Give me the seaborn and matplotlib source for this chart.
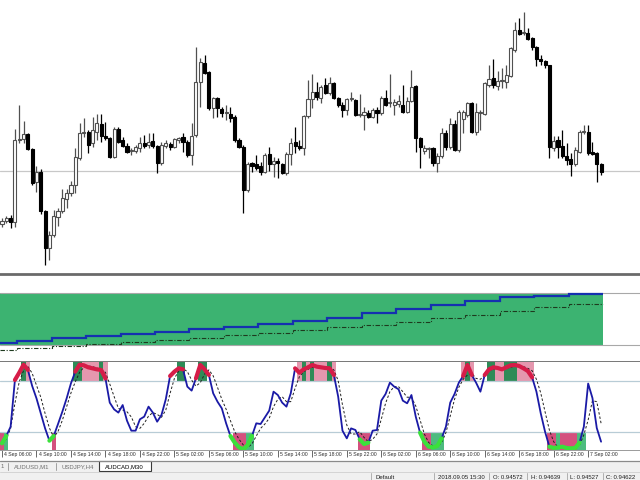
import numpy as np
import matplotlib
matplotlib.use('Agg')
import matplotlib.pyplot as plt
from matplotlib.patches import Rectangle
from matplotlib.transforms import ScaledTranslation
import seaborn as sns

# AUDCAD M30 candles, prices in points (1e-5)
opens = [94552, 94558, 94564, 94556, 94720, 94722, 94732, 94702, 94636, 94656,
         94578, 94504, 94530, 94566, 94578, 94602, 94614, 94630, 94684, 94734,
         94736, 94714, 94736, 94752, 94728, 94724, 94686, 94742, 94720, 94708,
         94698, 94698, 94704, 94714, 94710, 94718, 94708, 94674, 94708, 94712,
         94706, 94720, 94726, 94716, 94690, 94730, 94836, 94874, 94856, 94784,
         94804, 94782, 94774, 94772, 94766, 94720, 94706, 94620, 94674, 94672,
         94668, 94656, 94692, 94672, 94678, 94672, 94654, 94692, 94716, 94708,
         94704, 94768, 94802, 94816, 94804, 94830, 94814, 94834, 94804, 94790,
         94780, 94802, 94800, 94770, 94770, 94774, 94766, 94780, 94774, 94804,
         94794, 94790, 94792, 94790, 94776, 94798, 94828, 94724, 94698, 94702,
         94704, 94674, 94688, 94734, 94706, 94752, 94700, 94762, 94770, 94794,
         94736, 94774, 94772, 94830, 94844, 94828, 94838, 94836, 94848, 94900,
         94940, 94934, 94934, 94924, 94906, 94882, 94878, 94870, 94704, 94720,
         94708, 94688, 94682, 94672, 94696, 94736, 94736, 94696, 94694, 94672]
highs = [94564, 94568, 94570, 94742, 94790, 94758, 94734, 94704, 94668, 94662,
         94580, 94538, 94580, 94584, 94622, 94622, 94638, 94704, 94754, 94764,
         94740, 94766, 94772, 94772, 94756, 94726, 94746, 94746, 94726, 94714,
         94704, 94710, 94726, 94730, 94734, 94734, 94710, 94716, 94720, 94716,
         94724, 94726, 94734, 94720, 94754, 94906, 94884, 94890, 94858, 94806,
         94806, 94786, 94790, 94786, 94770, 94724, 94710, 94676, 94676, 94690,
         94676, 94694, 94706, 94686, 94684, 94674, 94696, 94724, 94746, 94720,
         94770, 94840, 94852, 94836, 94830, 94844, 94846, 94836, 94806, 94796,
         94804, 94816, 94802, 94812, 94786, 94780, 94784, 94786, 94808, 94820,
         94852, 94802, 94810, 94830, 94806, 94860, 94830, 94726, 94710, 94706,
         94706, 94694, 94744, 94740, 94764, 94760, 94780, 94780, 94796, 94796,
         94794, 94780, 94836, 94870, 94882, 94858, 94864, 94870, 94906, 94956,
         94964, 94976, 94944, 94926, 94908, 94890, 94880, 94870, 94728, 94728,
         94740, 94714, 94694, 94706, 94740, 94750, 94750, 94716, 94696, 94674]
lows = [94546, 94554, 94544, 94546, 94714, 94714, 94700, 94630, 94616, 94572,
        94470, 94480, 94526, 94548, 94574, 94584, 94608, 94614, 94680, 94726,
        94694, 94706, 94720, 94716, 94720, 94684, 94684, 94714, 94706, 94694,
        94690, 94694, 94696, 94704, 94704, 94704, 94654, 94670, 94704, 94700,
        94704, 94714, 94696, 94686, 94670, 94726, 94786, 94852, 94780, 94764,
        94766, 94766, 94760, 94756, 94716, 94704, 94574, 94616, 94656, 94660,
        94650, 94654, 94658, 94646, 94644, 94652, 94650, 94670, 94694, 94700,
        94690, 94764, 94784, 94800, 94794, 94812, 94810, 94802, 94786, 94766,
        94770, 94798, 94768, 94766, 94740, 94764, 94764, 94754, 94770, 94788,
        94786, 94770, 94786, 94774, 94774, 94796, 94696, 94664, 94692, 94684,
        94668, 94656, 94684, 94700, 94702, 94698, 94696, 94734, 94766, 94734,
        94730, 94740, 94770, 94826, 94824, 94820, 94824, 94824, 94846, 94896,
        94930, 94930, 94920, 94900, 94868, 94870, 94864, 94684, 94698, 94684,
        94684, 94670, 94648, 94668, 94694, 94732, 94690, 94690, 94636, 94650]
closes = [94558, 94564, 94556, 94720, 94722, 94732, 94702, 94634, 94656, 94578,
          94504, 94530, 94568, 94578, 94604, 94614, 94630, 94686, 94734, 94736,
          94710, 94740, 94754, 94728, 94724, 94686, 94742, 94716, 94708, 94696,
          94698, 94706, 94714, 94708, 94716, 94708, 94674, 94710, 94714, 94706,
          94722, 94724, 94716, 94690, 94728, 94836, 94876, 94854, 94784, 94804,
          94784, 94774, 94774, 94764, 94720, 94706, 94620, 94672, 94668, 94664,
          94656, 94690, 94672, 94678, 94674, 94654, 94692, 94714, 94708, 94704,
          94768, 94802, 94816, 94806, 94826, 94814, 94834, 94804, 94790, 94780,
          94802, 94802, 94770, 94770, 94776, 94766, 94780, 94774, 94804, 94790,
          94794, 94796, 94798, 94776, 94798, 94826, 94724, 94706, 94704, 94702,
          94674, 94688, 94734, 94706, 94752, 94700, 94776, 94776, 94794, 94736,
          94776, 94774, 94834, 94842, 94830, 94838, 94838, 94850, 94904, 94940,
          94932, 94934, 94922, 94906, 94882, 94878, 94870, 94706, 94718, 94706,
          94688, 94680, 94672, 94700, 94736, 94736, 94694, 94692, 94672, 94656]
hline_price = 94658

# middle panel: 4-hour step indicator
flow_main = [17.3, 19, 21.7, 24, 25.7, 28, 30.7, 33.3, 36, 39.3, 41.7, 46.7,
             50.7, 55, 59.3, 62.7, 64.3, 65.7]
flow_signal = [10, 11.7, 14, 16, 18.3, 20, 22.3, 25, 27.3, 30, 32.7, 35,
               38.3, 41.7, 45, 49, 53.3, 56]
band_lo, band_hi = 15, 67

# stochastic
stoch_main = [7.1, 15.7, 26.6, 81.2, 89.7, 99.1, 92.9, 74.2, 59.7, 42.2,
              24.6, 10.2, 15.7, 29.7, 44.1, 59.7, 77.3, 90.9, 99.1, 98.3,
              96.0, 94.8, 93.6, 92.9, 83.1, 54.7, 46.9, 43.0, 51.9, 33.6,
              21.9, 21.9, 35.2, 38.3, 50.0, 43.0, 32.4, 40.2, 58.6, 85.8,
              90.9, 94.8, 93.6, 73.4, 68.7, 83.1, 98.7, 93.6, 87.0, 65.6,
              55.8, 48.0, 30.5, 15.7, 7.9, 2.4, 0.1, 5.1, 15.7, 30.5,
              29.7, 37.5, 45.3, 67.5, 63.6, 54.7, 50.0, 65.6, 94.8, 89.7,
              93.6, 96.0, 98.7, 96.8, 96.0, 95.2, 94.8, 87.0, 61.7, 21.9,
              12.9, 24.6, 22.7, 11.8, 6.3, 7.9, 21.9, 22.7, 57.0, 64.8,
              78.1, 73.4, 70.3, 57.0, 53.9, 63.6, 38.3, 19.6, 9.0, 3.2,
              2.4, 4.0, 12.9, 26.6, 54.7, 64.8, 78.1, 85.8, 98.7, 87.0,
              78.0, 67.5, 87.0, 93.6, 96.0, 95.2, 93.6, 96.0, 98.3, 98.7,
              97.5, 94.8, 91.7, 84.3, 67.5, 42.2, 20.7, 3.2, 1.6, 2.4,
              3.2, 1.6, 1.2, 1.6, 7.9, 26.6, 77.0, 60.0, 25.0, 9.0]
stoch_signal = [7, 12, 24.6, 54, 79, 92, 97, 89, 75, 61,
                42, 25, 14, 21, 34, 50, 66, 79, 90, 96,
                97.5, 96.8, 95, 94, 90, 76.5, 62, 48, 46, 44,
                38, 26.6, 24.6, 30.5, 39, 43, 41, 37.5, 46, 65.6,
                83, 91.7, 94.4, 91, 81, 74, 78, 88, 93, 86,
                72.6, 58.6, 47, 33.6, 20.7, 11.8, 5.1, 2.4, 6.3, 15.7,
                24.6, 29.7, 36.3, 50, 58.6, 61.7, 55.8, 55.8, 71.4, 85,
                91, 93.6, 96, 96.8, 96.8, 96.8, 96, 92.9, 80.4, 52,
                28.5, 18, 18, 20.7, 14, 9, 11.8, 18, 35.2, 54,
                67.5, 73.4, 73.4, 67.5, 61, 61, 50.8, 34.4, 18, 8,
                4, 3.2, 7.9, 19.6, 39, 58.6, 72.6, 82, 87, 89,
                83, 82, 87, 92, 94, 94.8, 94, 94.8, 96, 97.5,
                98, 96.8, 94.8, 92, 82, 66, 44, 22.7, 9, 2.4,
                2.4, 2.4, 2, 2.4, 5, 17, 34.4, 57, 55.8, 30.5]
level_hi, level_lo = 80, 20

# zone blocks: bar index and kind (g = green, p = pink)
upper_bars = [5, 6, 17, 18, 19, 20, 21, 22, 23, 24, 41, 42, 46, 47, 69, 70, 71, 72, 73,
              74, 75, 76, 77, 107, 108, 109, 113, 114, 115, 116, 117, 118, 119, 120, 121, 122, 123]
upper_kind = list('gpggppppgpgggg' 'pgpgp' 'ppgp' 'pgp' 'ggppgggpppp')
lower_bars = [0, 1, 12, 54, 55, 56, 57, 58, 83, 84, 85, 98, 99, 100, 101, 102,
              127, 128, 129, 130, 131, 132, 133, 134, 135]
lower_kind = list('pgp' 'pppgg' 'ppp' 'ppggg' 'ppgppppgg')

time_labels = ['4 Sep 06:00', '4 Sep 10:00', '4 Sep 14:00', '4 Sep 18:00', '4 Sep 22:00',
               '5 Sep 02:00', '5 Sep 06:00', '5 Sep 10:00', '5 Sep 14:00', '5 Sep 18:00',
               '5 Sep 22:00', '6 Sep 02:00', '6 Sep 06:00', '6 Sep 10:00', '6 Sep 14:00',
               '6 Sep 18:00', '6 Sep 22:00', '7 Sep 02:00']
tabs = ['AUDUSD,M1', 'USDJPY,H4', 'AUDCAD,M30']
status = ['Default', '2018.09.05 15:30', 'O: 0.94572', 'H: 0.94639', 'L: 0.94527', 'C: 0.94622']

sns.set_style('white')
plt.rcParams['font.family'] = ['Liberation Sans', 'DejaVu Sans']

W, H = 640, 480
fig = plt.figure(figsize=(6.4, 4.8), dpi=100)
fig.patch.set_facecolor('white')


def px_axes(top, bottom):
    return fig.add_axes([0, 1 - bottom / H, 1, (bottom - top) / H])


n = len(opens)
bars = np.arange(n)
xlim = (-0.464, 148.03)
sep_col = '#6a6a6a'

# ---- main candle chart
o = np.array(opens) / 1e5
h = np.array(highs) / 1e5
l = np.array(lows) / 1e5
c = np.array(closes) / 1e5
up = c >= o

ax = px_axes(0, 274)
ax.axhline(hline_price / 1e5, color='#c8c8c8', lw=0.9, zorder=1)
ax.vlines(bars, l, h, colors=np.where(up, '#505050', '#000000'), lw=0.9, zorder=2)
ax.bar(bars, np.maximum(np.abs(c - o), 0.000012), bottom=np.minimum(o, c), width=0.72,
       color=np.where(up, 'white', 'black'), edgecolor=np.where(up, '#505050', 'black'),
       linewidth=0.8, zorder=3)
ax.set_xlim(*xlim)
ax.set_ylim(0.94452, 0.95000)
ax.axis('off')

# ---- middle panel
ax2 = px_axes(274, 362)
ax2.fill_between([-0.5, n - 0.5], band_lo, band_hi, color='#3cb371', lw=0, zorder=1)
ax2.axhline(band_lo, color='#a8a8a8', lw=0.8, zorder=1.5)
ax2.axhline(band_hi, color='#a8a8a8', lw=0.8, zorder=1.5)
edges = np.r_[-0.5, np.arange(3.5, n - 8, 8), n - 0.5]
ax2.stairs(flow_signal, edges, baseline=None, color='#1e3a1e', lw=0.8,
           linestyle=(0, (4, 1.5, 1, 1.5)), zorder=2)
ax2.stairs(flow_main, edges, baseline=None, color='#1530b0', lw=1.6, zorder=3)
ax2.set_xlim(*xlim)
ax2.set_ylim(-2, 86)
ax2.set_xticks([])
ax2.set_yticks([])
for side in ['left', 'right']:
    ax2.spines[side].set_visible(False)
for side in ['top', 'bottom']:
    ax2.spines[side].set_color(sep_col)
    ax2.spines[side].set_linewidth(2)

# ---- stochastic panel
ax3 = px_axes(362, 450)
up_cols = {'g': '#2e8b57', 'p': '#e597ae'}
lo_cols = {'g': '#4dbb7f', 'p': '#d4507e'}
ax3.bar(upper_bars, 100 - level_hi + 2, bottom=level_hi, width=1.0,
        color=[up_cols[k] for k in upper_kind], lw=0, zorder=1)
ax3.bar(lower_bars, level_lo + 1, bottom=-1, width=1.0,
        color=[lo_cols[k] for k in lower_kind], lw=0, zorder=1)
ax3.axhline(level_hi, color='#b8ccd6', lw=0.9, zorder=1.5)
ax3.axhline(level_lo, color='#b8ccd6', lw=0.9, zorder=1.5)

main = np.array(stoch_main)
sns.lineplot(x=bars, y=stoch_signal, ax=ax3, color='#202020', lw=0.7,
             linestyle=(0, (2.5, 2)), zorder=2)
sns.lineplot(x=bars, y=main, ax=ax3, color='#1a1aa6', lw=1.3, zorder=3)
ax3.plot(bars, np.where(main >= level_hi, main, np.nan), color='#d61c48', lw=3,
         solid_capstyle='round', zorder=4)
ax3.plot(bars, np.where(main <= level_lo, main, np.nan), color='#3be03b', lw=3,
         solid_capstyle='round', zorder=4)
ax3.set_xlim(*xlim)
ax3.set_ylim(-0.7, 102.2)
ax3.set_yticks([])
ax3.set_xticks(bars[::8][:len(time_labels)])
ax3.set_xticklabels(time_labels, ha='left', fontsize=3.7, color='#303030')
ax3.tick_params(axis='x', length=5, width=0.6, pad=-3.5, color='#505050', direction='out',
                bottom=True)
shift = ScaledTranslation(1.5 / 72, 0, fig.dpi_scale_trans)
for lab in ax3.get_xticklabels():
    lab.set_transform(lab.get_transform() + shift)
ax3.set_xlabel('')
ax3.set_ylabel('')
for side in ['left', 'right', 'top']:
    ax3.spines[side].set_visible(False)
ax3.spines['bottom'].set_color('#9a9a9a')
ax3.spines['bottom'].set_linewidth(0.7)

# ---- terminal tabs and status bar
axb = px_axes(450, 480)
axb.set_xlim(0, W)
axb.set_ylim(480, 450)
axb.axis('off')
axb.add_patch(Rectangle((0, 461), W, 19, fc='#f0f0f0', ec='none'))
axb.axhline(461, color='#8a8a8a', lw=0.9)
axb.axhline(471.5, color='#d4d4d4', lw=0.7)
axb.add_patch(Rectangle((99, 460.5), 52, 10, fc='white', ec='#3a3a3a', lw=0.8))
axb.text(0.5, 466.5, '1', fontsize=4.3, color='#707070', va='center')
for xs in [8, 56]:
    axb.plot([xs, xs], [462.5, 469.5], color='#a0a0a0', lw=0.7)
for xt, txt in zip([14, 62, 105], tabs):
    axb.text(xt, 466.3, txt, fontsize=4.3, va='center',
             color='#000000' if txt == tabs[-1] else '#707070')
for xs in [370.7, 434.3, 489.3, 527.3, 566.7, 602.7]:
    axb.plot([xs, xs], [472.5, 480], color='#b0b0b0', lw=0.7)
for xt, txt in zip([375, 437.5, 493, 531, 570, 606], status):
    axb.text(xt, 477.5, txt, fontsize=4.3, va='center', color='#202020')

fig.savefig('out.png', dpi=100)
